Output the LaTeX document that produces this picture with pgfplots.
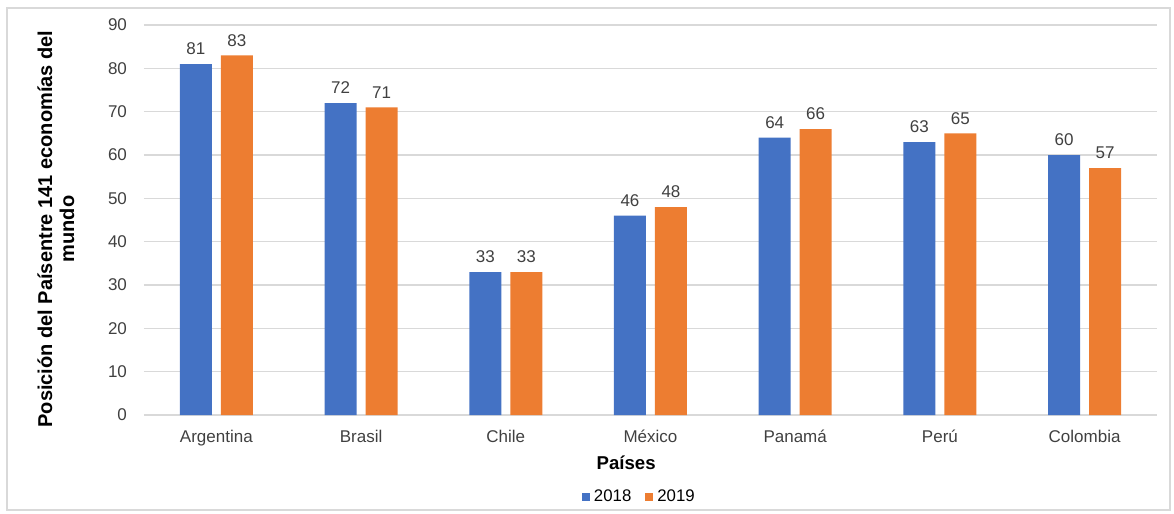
\documentclass[border=0pt]{standalone}
\usepackage{fontspec}
\setmainfont{Liberation Sans}
\usepackage{pgfplots}
\pgfplotsset{compat=1.18}
\usepackage{pgfplotstable}

\definecolor{barblue}{HTML}{4472C4}
\definecolor{barorange}{HTML}{ED7D31}
\definecolor{gridgray}{HTML}{D9D9D9}
\definecolor{txtgray}{HTML}{404040}

\pgfplotstableread{
x  y2018 y2019
0  81    83
1  72    71
2  33    33
3  46    48
4  64    66
5  63    65
6  60    57
}\ranking

\begin{document}
\begin{tikzpicture}
\useasboundingbox (-72pt,-49.5pt) rectangle (515pt,207.5pt);
\draw[gridgray, line width=0.6pt] (-68.5pt,-47.5pt) rectangle (513pt,203.5pt);
\begin{axis}[
  at={(0pt,0pt)}, anchor=south west,
  scale only axis,
  width=506.5pt, height=195pt,
  ybar, bar width=16pt,
  xmin=-0.5, xmax=6.5, ymin=0, ymax=90,
  enlarge x limits=false,
  xtick=data,
  xticklabels={Argentina,Brasil,Chile,México,Panamá,Perú,Colombia},
  ytick distance=10,
  axis x line=bottom,
  axis y line=left,
  x axis line style={draw=gridgray, line width=0.6pt, -},
  y axis line style={draw=none},
  major tick length=0pt,
  tick style={draw=none},
  ymajorgrids,
  grid style={draw=gridgray, line width=0.6pt},
  /pgf/number format/assume math mode=true,
  ticklabel style={font=\fontsize{8.5}{10}\selectfont, text=txtgray},
  yticklabel style={xshift=-5pt},
  xticklabel style={yshift=-4pt},
  xlabel={Países},
  xlabel style={at={(rel axis cs:0.476,0)}, anchor=center, yshift=-24pt,
    font=\fontsize{9.3}{11}\selectfont\bfseries},
  ylabel={Posición del Paísentre 141 economías del\\mundo},
  ylabel style={at={([xshift=-44pt]rel axis cs:0,0.477)}, anchor=center,
    align=center, font=\fontsize{10}{11}\selectfont\bfseries},
  nodes near coords,
  every node near coord/.append style={font=\fontsize{8.5}{10}\selectfont,
    text=txtgray, yshift=1pt},
  legend columns=2,
  legend style={at={(rel axis cs:0.49,0)}, anchor=center, yshift=-41pt,
    draw=none, fill=none, font=\fontsize{8.4}{10}\selectfont,
    /tikz/every even column/.append style={column sep=5pt},
    inner sep=0pt},
  legend image code/.code={\fill[#1] (0pt,-2pt) rectangle (4pt,2pt);},
]
\addplot[fill=barblue, draw=none, bar shift=-10.25pt] table[x=x, y=y2018] {\ranking};
\addplot[fill=barorange, draw=none, bar shift=10.25pt] table[x=x, y=y2019] {\ranking};
\legend{2018,2019}
\end{axis}
\end{tikzpicture}
\end{document}
